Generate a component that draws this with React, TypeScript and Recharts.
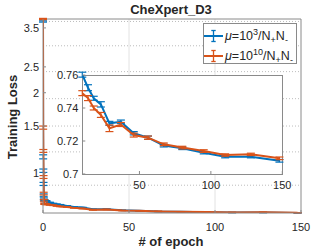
import React from "react";
import { LineChart, Line, XAxis, YAxis, CartesianGrid, ErrorBar, ReferenceLine } from "recharts";

// ---- data ----
const earlyEpochs = [0, 0.1, 0.2, 0.3, 0.4, 0.5, 0.7, 1, 2, 4, 6, 8];
const earlyBlue = [3.7, 1.15, 1.02, 0.91, 0.825, 0.8, 0.79, 0.79, 0.785, 0.775, 0.768, 0.763];
const earlyOrange = [3.78, 1.48, 1.21, 0.966, 0.837, 0.79, 0.768, 0.765, 0.763, 0.76, 0.757, 0.753];
const earlyBlueErr = [0.02, 0.02, 0.015, 0.012, 0.01, 0.006, 0.004, 0.003, 0.003, 0.002, 0.002, 0.002];
const earlyOrangeErr = [0.02, 0.02, 0.015, 0.012, 0.01, 0.006, 0.004, 0.003, 0.003, 0.002, 0.002, 0.002];

const insetEpochs = [10, 14, 18, 23, 29, 37, 46, 56, 67, 80, 95, 110, 128, 148];
const blueLoss = [0.7602, 0.7523, 0.7459, 0.7422, 0.7307, 0.7317, 0.7247, 0.722, 0.7172, 0.7156, 0.7129, 0.7105, 0.7105, 0.708];
const orangeLoss = [0.749, 0.746, 0.74, 0.7358, 0.7277, 0.73, 0.7236, 0.722, 0.718, 0.716, 0.7139, 0.7115, 0.7119, 0.7095];
const blueErr = [0.0015, 0.0018, 0.0012, 0.0016, 0.0012, 0.001, 0.001, 0.001, 0.0008, 0.0008, 0.0007, 0.0007, 0.0007, 0.0008];
const orangeErr = [0.0015, 0.0015, 0.0012, 0.0015, 0.002, 0.0012, 0.0012, 0.001, 0.0008, 0.0008, 0.0008, 0.0007, 0.0007, 0.0008];

const mainYTicks = [1, 1.5, 2, 2.5, 3, 3.5];
const mainXTicks = [0, 50, 100, 150];
const insetYTicks = [0.7, 0.72, 0.74, 0.76];
const insetXTicks = [50, 100, 150];
const minorGrid = [0.8, 0.9, 1.0, 1.1, 1.2, 1.3, 1.4, 1.5, 1.6, 1.7, 1.8, 1.9, 2.0, 2.1, 2.2, 2.3, 2.4, 2.5, 2.6, 2.7, 2.8, 2.9, 3.0, 3.1, 3.2, 3.3, 3.4, 3.5, 3.6, 3.7];

const legendLabels = [
  { base: "10", exp: "3" },
  { base: "10", exp: "10" },
];

// ---- styles ----
const BLUE = "#0072BD";
const ORANGE = "#D95319";
const AXIS = "#8a8a8a";
const TEXT = "#262626";
const FONT = "'Liberation Sans', Arial, Helvetica, sans-serif";

const mainData = [
  ...earlyEpochs.map((e, i) => ({ x: e, b: earlyBlue[i], o: earlyOrange[i], be: earlyBlueErr[i], oe: earlyOrangeErr[i] })),
  ...insetEpochs.map((e, i) => ({ x: e, b: blueLoss[i], o: orangeLoss[i], be: blueErr[i], oe: orangeErr[i] })),
];
const insetData = insetEpochs.map((e, i) => ({ x: e, b: blueLoss[i], o: orangeLoss[i], be: blueErr[i], oe: orangeErr[i] }));

const YTick = (props: any) => {
  const { x, y, payload } = props;
  return (
    <g>
      <line x1={x + 4} x2={x + 7} y1={y} y2={y} stroke={AXIS} strokeWidth={1} />
      <text x={x} y={y} dy="0.355em" textAnchor="end" fontSize={11} fill={TEXT} fontFamily={FONT}>
        {String(payload.value)}
      </text>
    </g>
  );
};

const makeXTick = (margin: number) => (props: any) => {
  const { x, y, payload } = props;
  return (
    <g>
      <line x1={x} x2={x} y1={y - margin} y2={y - margin - 3} stroke={AXIS} strokeWidth={1} />
      <text x={x} y={y} dy="0.71em" textAnchor="middle" fontSize={11} fill={TEXT} fontFamily={FONT}>
        {String(payload.value)}
      </text>
    </g>
  );
};
const MainXTick = makeXTick(10);
const InsetXTick = makeXTick(7);

const LegendIcon = ({ color }: { color: string }) => (
  <svg width={20} height={14} style={{ display: "block", flex: "none" }}>
    <line x1={0} x2={19} y1={7} y2={7} stroke={color} strokeWidth={2} />
    <line x1={9.5} x2={9.5} y1={1.5} y2={12.5} stroke={color} strokeWidth={1.3} />
    <line x1={7.3} x2={11.7} y1={1.5} y2={1.5} stroke={color} strokeWidth={1.3} />
    <line x1={7.3} x2={11.7} y1={12.5} y2={12.5} stroke={color} strokeWidth={1.3} />
  </svg>
);

export default function App() {
  return (
    <div style={{ position: "absolute", left: 0, top: 0, width: 332, height: 249, background: "#fff", fontFamily: FONT, color: TEXT, overflow: "hidden" }}>
      {/* title */}
      <div style={{ position: "absolute", left: 71, top: 2, width: 200, height: 16, lineHeight: "16px", textAlign: "center", fontWeight: "bold", fontSize: 13 }}>
        CheXpert_D3
      </div>

      {/* main chart */}
      <div style={{ position: "absolute", left: 0, top: 0 }}>
        <LineChart width={332} height={249} data={mainData} margin={{ top: 19, right: 31, bottom: 0, left: 0 }}>
          <CartesianGrid horizontal={true} vertical={false} horizontalValues={minorGrid} stroke="#bdbdbd" strokeDasharray="1 2" />
          <CartesianGrid horizontal={false} vertical={true} verticalValues={[50, 100]} stroke="#e2e2e2" />
          <XAxis
            dataKey="x"
            type="number"
            domain={[0, 150]}
            ticks={mainXTicks}
            height={36}
            tickSize={0}
            tickMargin={10}
            tickLine={false}
            axisLine={{ stroke: AXIS }}
            tick={MainXTick}
            allowDataOverflow
          />
          <YAxis
            type="number"
            scale="log"
            domain={[0.708, 3.78]}
            ticks={mainYTicks}
            width={43}
            tickSize={0}
            tickMargin={4}
            tickLine={false}
            axisLine={{ stroke: AXIS }}
            tick={YTick}
            allowDataOverflow
          />
          <ReferenceLine y={3.78} stroke={AXIS} />
          <ReferenceLine x={150} stroke={AXIS} />
          <Line type="linear" dataKey="b" stroke={BLUE} strokeWidth={2} dot={false} isAnimationActive={false}>
            <ErrorBar dataKey="be" width={4} stroke={BLUE} strokeWidth={1.2} direction="y" isAnimationActive={false} />
          </Line>
          <Line type="linear" dataKey="o" stroke={ORANGE} strokeWidth={2} dot={false} isAnimationActive={false}>
            <ErrorBar dataKey="oe" width={4} stroke={ORANGE} strokeWidth={1.2} direction="y" isAnimationActive={false} />
          </Line>
        </LineChart>
      </div>

      {/* inset box */}
      <div style={{ position: "absolute", left: 82, top: 75, width: 201, height: 100, background: "#fff", border: `1px solid ${AXIS}`, boxSizing: "border-box" }} />

      {/* inset chart */}
      <div style={{ position: "absolute", left: 0, top: 0 }}>
        <LineChart width={332} height={249} data={insetData} margin={{ top: 75, right: 49.7, bottom: 0, left: 0 }}>
          <XAxis
            dataKey="x"
            type="number"
            domain={[10, 150]}
            ticks={insetXTicks}
            height={75}
            tickSize={0}
            tickMargin={7}
            tickLine={false}
            axisLine={false}
            tick={InsetXTick}
            allowDataOverflow
          />
          <YAxis
            type="number"
            domain={[0.7, 0.76]}
            ticks={insetYTicks}
            width={82.3}
            tickSize={0}
            tickMargin={4}
            tickLine={false}
            axisLine={false}
            tick={YTick}
            allowDataOverflow
          />
          <Line type="linear" dataKey="b" stroke={BLUE} strokeWidth={2} dot={false} isAnimationActive={false}>
            <ErrorBar dataKey="be" width={4} stroke={BLUE} strokeWidth={1.2} direction="y" isAnimationActive={false} />
          </Line>
          <Line type="linear" dataKey="o" stroke={ORANGE} strokeWidth={2} dot={false} isAnimationActive={false}>
            <ErrorBar dataKey="oe" width={4} stroke={ORANGE} strokeWidth={1.2} direction="y" isAnimationActive={false} />
          </Line>
        </LineChart>
      </div>

      {/* legend */}
      <div style={{ position: "absolute", left: 203, top: 23, width: 94, height: 41, background: "#fff", border: `1px solid ${AXIS}`, boxSizing: "border-box" }}>
        {legendLabels.map((l, i) => (
          <div key={i} style={{ position: "absolute", left: 0, top: 5 + i * 20, height: 14, display: "flex", alignItems: "center", whiteSpace: "nowrap", fontSize: 12.5 }}>
            <LegendIcon color={i === 0 ? BLUE : ORANGE} />
            <span style={{ marginLeft: 1, lineHeight: "14px" }}>
              <i>μ</i>={l.base}
              <sup style={{ fontSize: 9, verticalAlign: "5px", lineHeight: 0 }}>{l.exp}</sup>/N
              <sub style={{ fontSize: 9, verticalAlign: "-3px", lineHeight: 0 }}>+</sub>N
              <sub style={{ fontSize: 9, verticalAlign: "-3px", lineHeight: 0 }}>-</sub>
            </span>
          </div>
        ))}
      </div>

      {/* axis labels */}
      <div style={{ position: "absolute", left: 71, top: 234, width: 200, height: 16, lineHeight: "16px", textAlign: "center", fontWeight: "bold", fontSize: 13 }}>
        # of epoch
      </div>
      <div style={{ position: "absolute", left: 13 - 60, top: 117 - 8, width: 120, height: 16, lineHeight: "16px", textAlign: "center", fontWeight: "bold", fontSize: 13, transform: "rotate(-90deg)" }}>
        Training Loss
      </div>
    </div>
  );
}
